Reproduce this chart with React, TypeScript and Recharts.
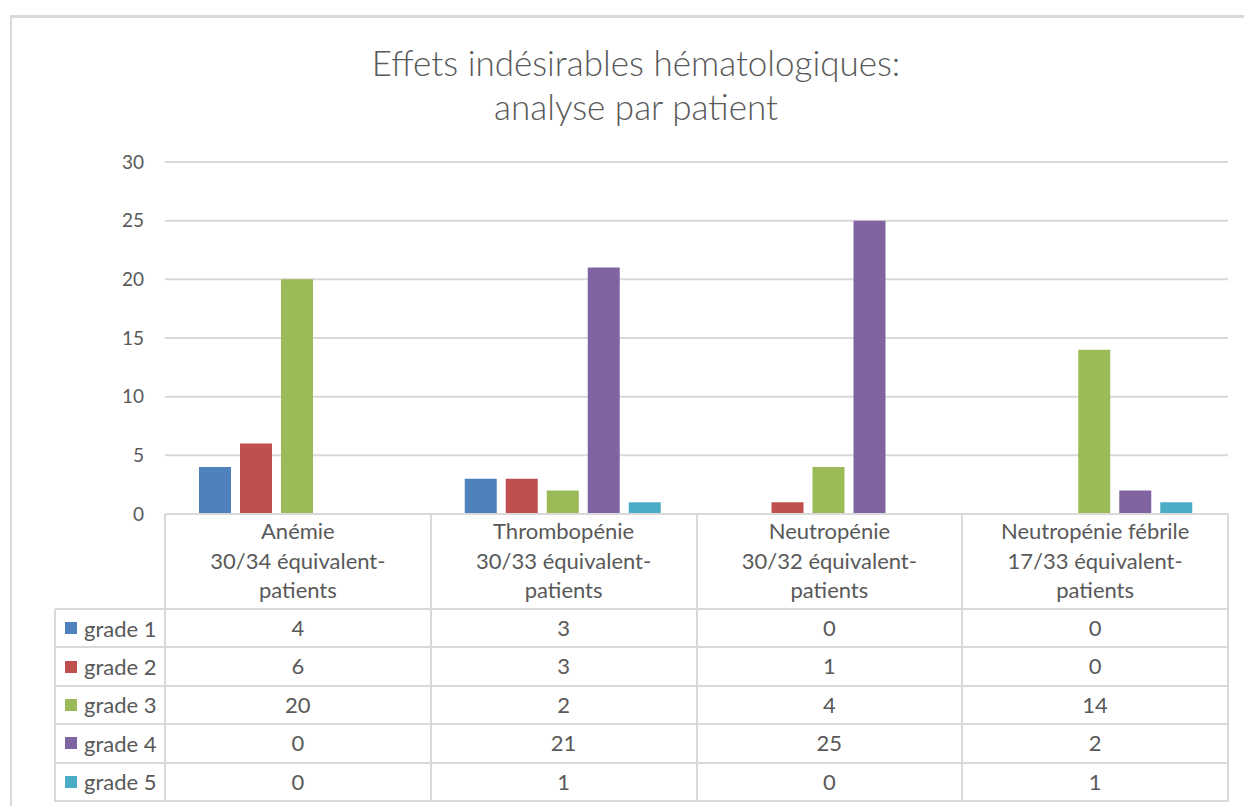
import { BarChart, Bar, XAxis, YAxis, CartesianGrid } from "recharts"

// Catégories (lignes d'en-tête du tableau de données)
const categories = ["Anémie", "Thrombopénie", "Neutropénie", "Neutropénie fébrile"]
const categoryLabels = [
  ["Anémie", "30/34 équivalent-", "patients"],
  ["Thrombopénie", "30/33 équivalent-", "patients"],
  ["Neutropénie", "30/32 équivalent-", "patients"],
  ["Neutropénie fébrile", "17/33 équivalent-", "patients"],
]

const seriesNames = ["grade 1", "grade 2", "grade 3", "grade 4", "grade 5"]
const grade1 = [4, 3, 0, 0]
const grade2 = [6, 3, 1, 0]
const grade3 = [20, 2, 4, 14]
const grade4 = [0, 21, 25, 2]
const grade5 = [0, 1, 0, 1]
const yTicks = [0, 5, 10, 15, 20, 25, 30]

const COLORS = ["#4F81BD", "#C0504D", "#9BBB59", "#8064A2", "#4BACC6"]

const series = [grade1, grade2, grade3, grade4, grade5]

const chartData = categories.map((name, i) => {
  const row: Record<string, string | number> = { name }
  seriesNames.forEach((s, j) => {
    row[s] = series[j][i]
  })
  return row
})

const FONT = "Lato, 'Open Sans', sans-serif"
const TEXT = "#595959"
const LINE = "#d9d9d9"

// géométrie du tableau
const PLOT_LEFT = 165
const PLOT_RIGHT = 1228
const COL_W = (PLOT_RIGHT - PLOT_LEFT) / categories.length
const TABLE_TOP = 514
const HEADER_BOTTOM = 609
const ROW_H = 38.4
const LEGEND_LEFT = 55

function HLine({ x1, x2, y }: { x1: number; x2: number; y: number }) {
  return <div style={{ position: "absolute", left: x1, top: y - 1, width: x2 - x1 + 1, height: 2, background: LINE }} />
}
function VLine({ x, y1, y2 }: { x: number; y1: number; y2: number }) {
  return <div style={{ position: "absolute", left: x - 1, top: y1, width: 2, height: y2 - y1 + 1, background: LINE }} />
}

function DataTable() {
  const bottom = HEADER_BOTTOM + ROW_H * seriesNames.length
  const lines: JSX.Element[] = []
  lines.push(<HLine key="h-top" x1={PLOT_LEFT} x2={PLOT_RIGHT} y={TABLE_TOP} />)
  for (let r = 0; r <= seriesNames.length; r++) {
    lines.push(<HLine key={`h${r}`} x1={LEGEND_LEFT} x2={PLOT_RIGHT} y={Math.round(HEADER_BOTTOM + r * ROW_H)} />)
  }
  lines.push(<VLine key="v-leg" x={LEGEND_LEFT} y1={HEADER_BOTTOM} y2={bottom} />)
  for (let c = 0; c <= categories.length; c++) {
    lines.push(<VLine key={`v${c}`} x={Math.round(PLOT_LEFT + c * COL_W)} y1={TABLE_TOP} y2={bottom} />)
  }

  return (
    <>
      {lines}
      {categoryLabels.map((lbl, c) => (
        <div
          key={`hd${c}`}
          style={{
            position: "absolute",
            left: PLOT_LEFT + c * COL_W,
            top: TABLE_TOP + 2,
            width: COL_W,
            textAlign: "center",
            fontSize: 22,
            lineHeight: "29.5px",
            color: TEXT,
          }}
        >
          {lbl.map((l, k) => (
            <div key={k}>{l}</div>
          ))}
        </div>
      ))}
      {seriesNames.map((s, r) => (
        <div key={`row${r}`}>
          <div
            style={{
              position: "absolute",
              left: LEGEND_LEFT + 10,
              top: HEADER_BOTTOM + r * ROW_H,
              height: ROW_H,
              display: "flex",
              alignItems: "center",
              fontSize: 22,
              color: TEXT,
            }}
          >
            <span style={{ display: "inline-block", width: 12, height: 12, background: COLORS[r], marginRight: 7 }} />
            {s}
          </div>
          {series[r].map((v, c) => (
            <div
              key={c}
              style={{
                position: "absolute",
                left: PLOT_LEFT + c * COL_W,
                top: HEADER_BOTTOM + r * ROW_H,
                width: COL_W,
                height: ROW_H,
                lineHeight: `${ROW_H}px`,
                textAlign: "center",
                fontSize: 22,
                color: TEXT,
              }}
            >
              {v}
            </div>
          ))}
        </div>
      ))}
    </>
  )
}

export default function App() {
  return (
    <div style={{ position: "absolute", left: 0, top: 0, width: 1244, height: 806, background: "#fff", fontFamily: FONT, overflow: "hidden" }}>
      {/* cadre du graphique */}
      <div style={{ position: "absolute", left: 10, top: 15, width: 1260, height: 820, borderTop: `3px solid ${LINE}`, borderLeft: `2px solid ${LINE}` }} />

      <div style={{ position: "absolute", left: 0, top: 40, width: 1272, textAlign: "center", fontSize: 35, fontWeight: 300, lineHeight: "44px", color: TEXT }}>
        <div>Effets indésirables hématologiques:</div>
        <div>analyse par patient</div>
      </div>

      <div style={{ position: "absolute", left: 0, top: 0 }}>
        <BarChart
          width={1244}
          height={540}
          data={chartData}
          margin={{ top: 162, right: 16, bottom: 26, left: 0 }}
          barCategoryGap={34}
          barGap={9}
        >
          <CartesianGrid vertical={false} stroke={LINE} strokeWidth={2} />
          <XAxis dataKey="name" hide />
          <YAxis
            width={165}
            domain={[0, 30]}
            ticks={yTicks}
            interval={0}
            tickLine={false}
            axisLine={false}
            tickSize={0}
            tickMargin={21}
            tick={{ fill: TEXT, fontSize: 19, fontFamily: FONT }}
          />
          {seriesNames.map((s, i) => (
            <Bar key={s} dataKey={s} fill={COLORS[i]} isAnimationActive={false} />
          ))}
        </BarChart>
      </div>

      <DataTable />
    </div>
  )
}
